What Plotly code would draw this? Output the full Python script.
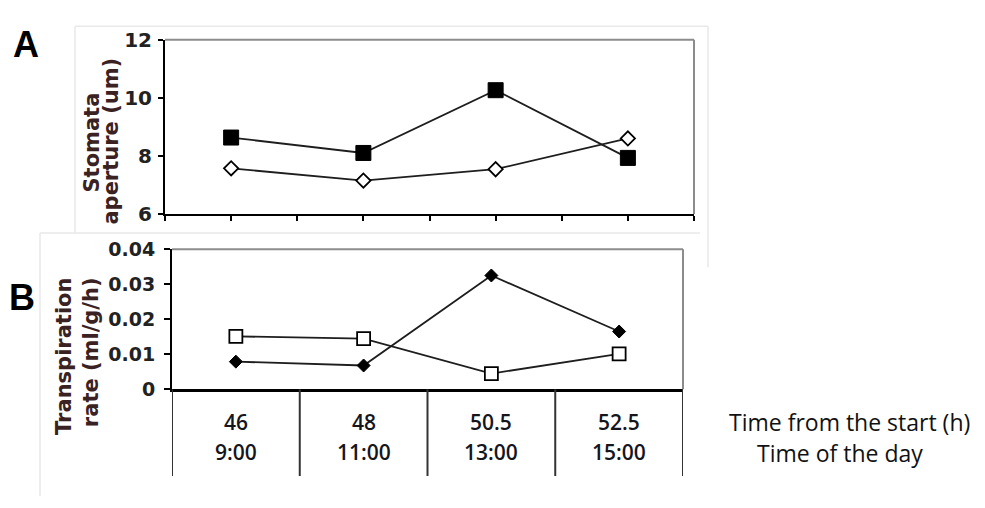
import plotly.graph_objects as go

# ---------------- data ----------------
categories = ["46", "48", "50.5", "52.5"]          # time from the start (h)
time_of_day = ["9:00", "11:00", "13:00", "15:00"]
stomata_filled_square = [8.63, 8.10, 10.26, 7.93]
stomata_open_diamond = [7.57, 7.15, 7.54, 8.60]
transp_filled_diamond = [0.0079, 0.0068, 0.0325, 0.0165]
transp_open_square = [0.0151, 0.0145, 0.0045, 0.0101]
yticks_a = [6, 8, 10, 12]
yticks_b = [0, 0.01, 0.02, 0.03, 0.04]
yticklabels_b = ["0", "0.01", "0.02", "0.03", "0.04"]

W, H = 985, 508


def px(x):
    return x / W


def py(y):
    return 1 - y / H


xidx = list(range(len(categories)))
LINE = dict(color="#1e1e1e", width=1.8)
TICKFONT = dict(family="DejaVu Sans", size=20, color="#222222", weight="bold")
TICKFONT_B = dict(family="DejaVu Sans", size=19, color="#222222", weight="bold")
TITLEFONT = dict(family="DejaVu Sans", size=21, color="#3a2222", weight="bold")
TABLEFONT = dict(family="Open Sans", size=21, color="#15151c", weight=600)

fig = go.Figure()

# Panel A
fig.add_trace(go.Scatter(x=xidx, y=stomata_filled_square, mode="lines+markers",
                         line=LINE, xaxis="x", yaxis="y",
                         marker=dict(symbol="square", size=15, color="#000000",
                                     line=dict(color="#000000", width=1))))
fig.add_trace(go.Scatter(x=xidx, y=stomata_open_diamond, mode="lines+markers",
                         line=LINE, xaxis="x", yaxis="y",
                         marker=dict(symbol="diamond", size=11, color="#ffffff",
                                     line=dict(color="#000000", width=1.8))))
# Panel B
fig.add_trace(go.Scatter(x=xidx, y=transp_filled_diamond, mode="lines+markers",
                         line=LINE, xaxis="x2", yaxis="y2",
                         marker=dict(symbol="diamond", size=10, color="#000000",
                                     line=dict(color="#000000", width=1))))
fig.add_trace(go.Scatter(x=xidx, y=transp_open_square, mode="lines+markers",
                         line=LINE, xaxis="x2", yaxis="y2",
                         marker=dict(symbol="square", size=13, color="#ffffff",
                                     line=dict(color="#000000", width=1.8))))

xr = [-0.5, len(categories) - 0.5]
half_ticks = [xr[0] + 0.5 * k for k in range(2 * len(categories) + 1)]

fig.update_layout(
    width=W, height=H,
    margin=dict(l=0, r=0, t=0, b=0),
    paper_bgcolor="white", plot_bgcolor="white",
    showlegend=False,
    xaxis=dict(domain=[px(165), px(694)], range=xr, anchor="y",
               showline=True, linecolor="#000000", linewidth=2,
               ticks="outside", tickvals=half_ticks, ticklen=5, tickwidth=1.5,
               tickcolor="#000000", showticklabels=False,
               showgrid=False, zeroline=False),
    yaxis=dict(domain=[py(212), py(29)], range=[6, 12], anchor="x",
               showline=True, linecolor="#000000", linewidth=2,
               ticks="outside", tickvals=yticks_a, ticklen=5, tickwidth=1.5,
               tickcolor="#000000", tickfont=TICKFONT, ticklabelstandoff=2,
               showgrid=False, zeroline=False),
    xaxis2=dict(domain=[px(172), px(683)], range=xr, anchor="y2",
                showline=True, linecolor="#000000", linewidth=2.5,
                ticks="", showticklabels=False,
                showgrid=False, zeroline=False),
    yaxis2=dict(domain=[py(396), py(249)], range=[0, 0.04], anchor="x2",
                showline=True, linecolor="#000000", linewidth=2,
                ticks="outside", tickvals=yticks_b, ticktext=yticklabels_b,
                ticklen=6, tickwidth=1.5, tickcolor="#000000",
                tickfont=TICKFONT_B, ticklabelstandoff=5,
                showgrid=False, zeroline=False),
)

shapes = []
# gray top/right frame of each plot area
for xa, ya in (("x", "y"), ("x2", "y2")):
    shapes.append(dict(type="line", xref=f"{xa} domain", yref=f"{ya} domain",
                       x0=0, x1=1, y0=1, y1=1, line=dict(color="#8c8c8c", width=2)))
    shapes.append(dict(type="line", xref=f"{xa} domain", yref=f"{ya} domain",
                       x0=1, x1=1, y0=0, y1=1, line=dict(color="#8c8c8c", width=2)))
# faint outer chart-area boxes
faint = dict(color="#e9e9e9", width=1.5)
for (x0, y0, x1, y1) in [(75, 15, 708, 15), (708, 15, 708, 268), (75, 15, 75, 232),
                         (40, 232, 700, 232), (40, 232, 40, 508)]:
    shapes.append(dict(type="line", xref="paper", yref="paper",
                       x0=px(x0), x1=px(x1), y0=py(y0), y1=py(y1), line=faint,
                       layer="below"))
# table vertical lines under panel B
for v in [xr[0] + k for k in range(len(categories) + 1)]:
    shapes.append(dict(type="line", xref="x2", yref="paper", x0=v, x1=v,
                       y0=py(396), y1=py(487), line=dict(color="#333333", width=2)))
fig.update_layout(shapes=shapes)

C = dict(xanchor="center", yanchor="middle", showarrow=False)
ann = []
for i, (c, t) in enumerate(zip(categories, time_of_day)):
    ann.append(dict(x=i, y=py(430), xref="x2", yref="paper", text=c,
                    font=TABLEFONT, **C))
    ann.append(dict(x=i, y=py(462), xref="x2", yref="paper", text=t,
                    font=TABLEFONT, **C))
LABELFONT = dict(family="Open Sans", size=23, color="#111111", weight=500)
ann.append(dict(x=px(727), y=py(430), xref="paper", yref="paper", xanchor="left",
                yanchor="middle", text="Time from the start (h)", showarrow=False,
                font=LABELFONT))
ann.append(dict(x=px(755), y=py(463), xref="paper", yref="paper", xanchor="left",
                yanchor="middle", text="Time of the day", showarrow=False,
                font=LABELFONT))
# panel letters
ann.append(dict(x=px(26), y=py(34), xref="paper", yref="paper", text="A",
                font=dict(family="Liberation Sans", size=36, color="#000000",
                          weight="bold"), **C))
ann.append(dict(x=px(22), y=py(300), xref="paper", yref="paper", text="B",
                font=dict(family="Liberation Sans", size=36, color="#000000",
                          weight="bold"), **C))
# y-axis titles (two lines each)
for text, x, y in [("Stomata", 92, 137), ("aperture (um)", 111, 136),
                   ("Transpiration", 64, 362), ("rate (ml/g/h)", 91, 357)]:
    ann.append(dict(x=px(x), y=py(y), xref="paper", yref="paper", text=text,
                    textangle=-90, font=TITLEFONT, **C))
fig.update_layout(annotations=ann)

fig.write_html("out.html")
